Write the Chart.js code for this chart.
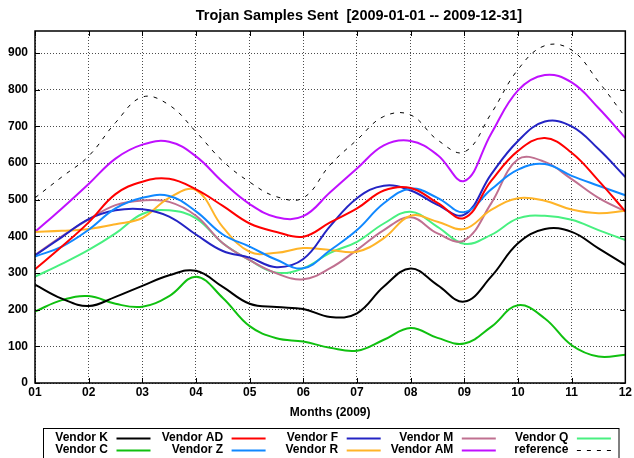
<!DOCTYPE html>
<html>
<head>
<meta charset="utf-8">
<script src="https://cdn.jsdelivr.net/npm/chart.js@4.4.1/dist/chart.umd.min.js"></script>
<style>
  html, body { margin: 0; padding: 0; background: #fff; }
  #wrap { width: 634px; height: 458px; }
</style>
</head>
<body>
<div id="wrap"><canvas id="trojanChart" width="634" height="458"></canvas></div>
<script>
const monthLabels  = ['01', '02', '03', '04', '05', '06', '07', '08', '09', '10', '11', '12'];
const samplePoints = [1, 1.5, 2, 2.5, 3, 3.5, 4, 4.5, 5, 5.5, 6, 6.5, 7, 7.5, 8, 8.5, 9, 9.5, 10, 10.5, 11, 11.5, 12];

const vendorK   = [268, 230, 210, 235, 265, 294, 306, 262, 216, 207, 202, 180, 190, 263, 312, 267, 222, 290, 381, 420, 412, 367, 322];
const vendorC   = [195, 226, 237, 216, 208, 237, 290, 232, 155, 122, 113,  96,  88, 118, 150, 123, 108, 153, 212, 176, 103,  72,  77];
const vendorAD  = [310, 372, 438, 515, 549, 557, 528, 483, 435, 412, 399, 438, 476, 525, 532, 491, 450, 551, 633, 668, 628, 552, 468];
const vendorZ   = [345, 372, 418, 476, 505, 510, 468, 405, 372, 336, 313, 362, 417, 490, 530, 505, 466, 528, 582, 597, 565, 538, 512];
const vendorF   = [348, 398, 447, 471, 474, 454, 405, 360, 342, 316, 338, 428, 504, 538, 525, 486, 459, 569, 660, 713, 700, 638, 562];
const vendorR   = [412, 415, 420, 433, 450, 505, 526, 425, 358, 355, 368, 363, 358, 395, 456, 440, 420, 472, 504, 497, 473, 463, 470];
const vendorM   = [349, 400, 446, 485, 498, 494, 456, 381, 335, 299, 283, 313, 363, 417, 452, 408, 389, 490, 610, 603, 556, 505, 468];
const vendorAM  = [412, 476, 543, 612, 650, 658, 618, 548, 488, 452, 455, 520, 585, 648, 660, 622, 551, 680, 798, 840, 820, 750, 668];
const vendorQ   = [290, 325, 363, 408, 461, 471, 449, 381, 335, 301, 313, 355, 385, 435, 467, 426, 380, 404, 449, 456, 445, 417, 390];
const reference = [505, 562, 619, 710, 780, 758, 685, 605, 548, 508, 505, 595, 663, 727, 731, 663, 630, 735, 855, 920, 908, 822, 725];

// ── Helpers ────────────────────────────────────────────────────
const FONT = "'Liberation Sans', Arial, Helvetica, sans-serif";

function series(label, values, color, dash) {
  return {
    label,
    data: samplePoints.map((x, i) => ({ x, y: values[i] })),
    borderColor: color,
    backgroundColor: color,
    borderWidth: dash ? 1 : 2,
    borderDash: dash || [],
    pointRadius: 0,
    tension: 0.4,
    fill: false,
  };
}

// gnuplot-ish frame: solid border plus short inward tick marks on all sides
const framePlugin = {
  id: 'frame',
  afterDatasetsDraw(chart) {
    const { ctx, chartArea: a, scales } = chart;
    ctx.save();
    ctx.strokeStyle = '#000';
    ctx.lineWidth = 1;
    ctx.beginPath();
    scales.x.ticks.forEach(t => {
      const px = Math.round(scales.x.getPixelForValue(t.value)) + 0.5;
      ctx.moveTo(px, a.bottom); ctx.lineTo(px, a.bottom - 5);
      ctx.moveTo(px, a.top);    ctx.lineTo(px, a.top + 5);
    });
    scales.y.ticks.forEach(t => {
      const py = Math.round(scales.y.getPixelForValue(t.value)) + 0.5;
      ctx.moveTo(a.left, py);  ctx.lineTo(a.left + 5, py);
      ctx.moveTo(a.right, py); ctx.lineTo(a.right - 5, py);
    });
    ctx.stroke();
    ctx.lineWidth = 1.5;
    ctx.strokeRect(a.left, a.top, a.right - a.left, a.bottom - a.top);
    ctx.restore();
  },
};

// title is offset to the right in the original, so it is drawn by hand
const titlePlugin = {
  id: 'offsetTitle',
  afterDraw(chart) {
    const ctx = chart.ctx;
    ctx.save();
    ctx.font = 'bold 14.5px ' + FONT;
    ctx.fillStyle = '#000';
    ctx.textAlign = 'center';
    ctx.textBaseline = 'middle';
    ctx.fillText('Trojan Samples Sent  [2009-01-01 -- 2009-12-31]', 359, 16);
    ctx.restore();
  },
};

// boxed 2-row legend, text right-aligned before the line sample
const keyPlugin = {
  id: 'gnuplotKey',
  afterDraw(chart) {
    const ctx = chart.ctx;
    const rows = 2, colStep = 115.1, firstTextRight = 108;
    const rowY = [437.5, 450];
    ctx.save();
    ctx.strokeStyle = '#000';
    ctx.lineWidth = 1;
    ctx.strokeRect(43.5, 428.5, 575.5, 40);
    ctx.font = 'bold 12px ' + FONT;
    ctx.fillStyle = '#000';
    ctx.textAlign = 'right';
    ctx.textBaseline = 'middle';
    chart.data.datasets.forEach((ds, i) => {
      const col = Math.floor(i / rows), row = i % rows;
      const tx = firstTextRight + col * colStep;
      const y = rowY[row];
      ctx.fillText(ds.label, tx, y);
      ctx.save();
      ctx.strokeStyle = ds.borderColor;
      ctx.lineWidth = ds.borderWidth;
      ctx.setLineDash(ds.borderDash);
      ctx.beginPath();
      ctx.moveTo(tx + 8.5, Math.round(y) + 0.5);
      ctx.lineTo(tx + 42.5, Math.round(y) + 0.5);
      ctx.stroke();
      ctx.restore();
    });
    ctx.restore();
  },
};

// ── Chart ──────────────────────────────────────────────────────
new Chart(document.getElementById('trojanChart'), {
  type: 'line',
  data: {
    datasets: [
      series('Vendor K',  vendorK,  '#000000'),
      series('Vendor C',  vendorC,  '#10c010'),
      series('Vendor AD', vendorAD, '#ff0000'),
      series('Vendor Z',  vendorZ,  '#1088ff'),
      series('Vendor F',  vendorF,  '#2424c4'),
      series('Vendor R',  vendorR,  '#ffb428'),
      series('Vendor M',  vendorM,  '#c07090'),
      series('Vendor AM', vendorAM, '#c010ff'),
      series('Vendor Q',  vendorQ,  '#48f080'),
      series('reference', reference, '#000000', [4, 6]),
    ],
  },
  options: {
    responsive: false,
    animation: false,
    layout: { padding: { left: 0, right: 6, top: 31, bottom: 35 } },
    plugins: {
      legend:  { display: false },
      title:   { display: false },
      tooltip: { enabled: false },
    },
    scales: {
      x: {
        type: 'linear',
        min: 1,
        max: 12,
        afterFit: s => { s.height = 40; },
        border: { display: false, dash: [1, 2] },
        grid: { color: 'rgba(0,0,0,0.7)', lineWidth: 1, drawTicks: false },
        ticks: {
          stepSize: 1,
          autoSkip: false,
          maxRotation: 0,
          padding: 2,
          color: '#000',
          font: { family: FONT, size: 12, weight: 'bold' },
          callback: v => monthLabels[v - 1],
        },
        title: {
          display: true,
          text: 'Months (2009)',
          color: '#000',
          font: { family: FONT, size: 12, weight: 'bold' },
          padding: { top: 0, bottom: 3 },
        },
      },
      y: {
        min: 0,
        max: 960,
        afterFit: s => { s.width = 35; },
        border: { display: false, dash: [1, 2] },
        grid: { color: 'rgba(0,0,0,0.7)', lineWidth: 1, drawTicks: false },
        ticks: {
          stepSize: 100,
          includeBounds: false,
          padding: 7,
          color: '#000',
          font: { family: FONT, size: 12, weight: 'bold' },
        },
      },
    },
  },
  plugins: [framePlugin, titlePlugin, keyPlugin],
});
</script>
</body>
</html>
